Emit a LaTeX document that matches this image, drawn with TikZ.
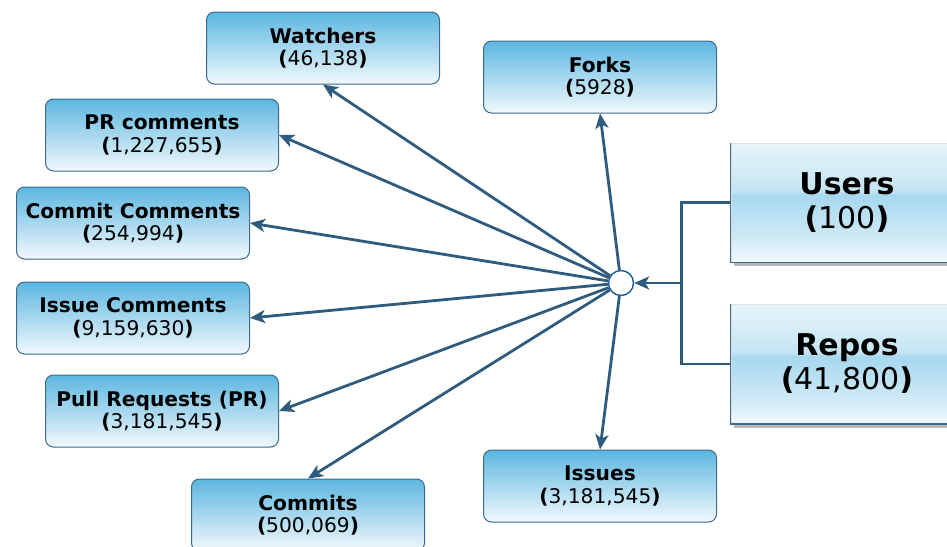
\documentclass[tikz,border=0pt]{standalone}
\usepackage{fontspec}
\setmainfont{DejaVu Sans}
\usetikzlibrary{arrows.meta,shadows}

\definecolor{edgeblue}{HTML}{2F5B7F}
\definecolor{boxline}{HTML}{3C6A8C}
\definecolor{boxtop}{HTML}{5CB6E0}
\definecolor{boxbot}{HTML}{F2F9FD}
\definecolor{bigmid}{HTML}{A6D8EE}
\definecolor{bigtop}{HTML}{E8F4FA}
\definecolor{hubline}{HTML}{1D5A98}

\pgfdeclareverticalshading{bigshade}{100bp}{
  color(0bp)=(boxbot); color(25bp)=(boxbot); color(35bp)=(bigmid!45!boxbot);
  color(53bp)=(bigmid); color(55bp)=(bigmid!55!bigtop); color(75bp)=(bigtop);
  color(100bp)=(bigtop)}

\newcommand{\cnt}[1]{\textbf{(}#1\textbf{)}}

\tikzset{
  tbl/.style={draw=boxline, line width=1pt, rounded corners=8pt,
    top color=boxtop, bottom color=boxbot, minimum width=233pt,
    minimum height=72pt, inner sep=0pt, align=center,
    font=\fontsize{20.2}{22.5}\selectfont},
  bigtbl/.style={draw=gray!25, line width=1pt, minimum width=232pt,
    minimum height=119pt, inner sep=0pt, align=center, shading=bigshade,
    drop shadow={shadow xshift=3pt, shadow yshift=-4pt, fill=gray!55, opacity=1},
    font=\fontsize{30}{34}\selectfont},
  link/.style={draw=edgeblue, line width=2.8pt},
  rel/.style={link, -{Stealth[length=15pt,width=13pt,inset=4pt]}},
  hubnode/.style={circle, draw=hubline, line width=1.4pt, fill=white,
    minimum size=25pt, inner sep=0pt}
}

\begin{document}
\begin{tikzpicture}[x=1pt,y=-1pt]
\useasboundingbox (0,0) rectangle (947,546);

% source tables
\node[bigtbl] (users) at (847,202.5) {\textbf{Users}\\\cnt{100}};
\node[bigtbl] (repos) at (847,364) {\textbf{Repos}\\\cnt{41,800}};
\draw[boxline, line width=1.4pt] (users.north west) -- (users.south west) -- (users.south east);
\draw[boxline, line width=1.4pt] (repos.north west) -- (repos.south west) -- (repos.south east);

% derived tables
\node[tbl] (watchers) at (323,48) {\textbf{Watchers}\\\cnt{46,138}};
\node[tbl] (forks) at (600,77) {\textbf{Forks}\\\cnt{5928}};
\node[tbl] (prcom) at (162,135) {\textbf{PR comments}\\\cnt{1,227,655}};
\node[tbl] (comcom) at (133,223) {\textbf{Commit Comments}\\\cnt{254,994}};
\node[tbl] (isscom) at (133,318) {\textbf{Issue Comments}\\\cnt{9,159,630}};
\node[tbl] (pulls) at (162,411) {\textbf{Pull Requests (PR)}\\\cnt{3,181,545}};
\node[tbl] (commits) at (308,515) {\textbf{Commits}\\\cnt{500,069}};
\node[tbl] (issues) at (600,486) {\textbf{Issues}\\\cnt{3,181,545}};

\node[hubnode] (hub) at (621,283) {};
\coordinate (bar) at (682,283);

% join of users and repos
\draw[link] (users.west) -- ++(-49,0) |- (repos.west);
\draw[rel] (bar) -- (hub);

\draw[rel] (hub) -- (watchers.south);
\draw[rel] (hub) -- (forks.south);
\draw[rel] (hub) -- (prcom.east);
\draw[rel] (hub) -- (comcom.east);
\draw[rel] (hub) -- (isscom.east);
\draw[rel] (hub) -- (pulls.east);
\draw[rel] (hub) -- (commits.north);
\draw[rel] (hub) -- (issues.north);
\end{tikzpicture}
\end{document}
